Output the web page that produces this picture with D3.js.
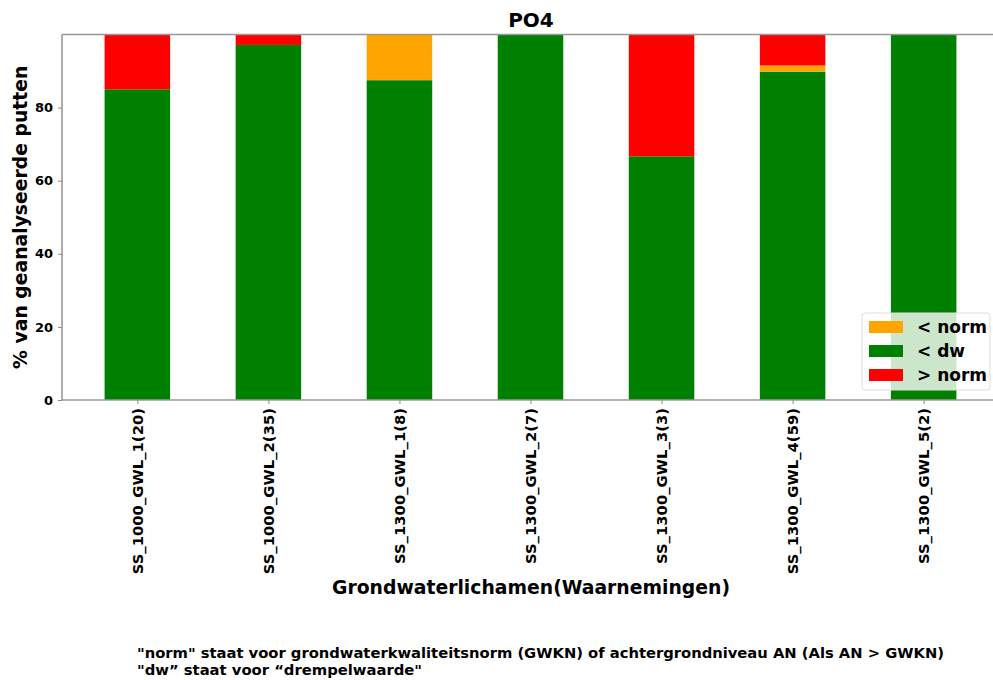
<!DOCTYPE html>
<html>
<head>
<meta charset="utf-8">
<script src="https://cdn.jsdelivr.net/npm/d3@7"></script>
<style>
  body { margin: 0; background: #fff; }
  svg { display: block; font-family: "DejaVu Sans", sans-serif; font-weight: bold; }
</style>
</head>
<body>
<svg id="chart" width="993" height="680"></svg>
<script>
// Groundwater bodies with number of observations
const categories = [
  "SS_1000_GWL_1(20)", "SS_1000_GWL_2(35)", "SS_1300_GWL_1(8)",
  "SS_1300_GWL_2(7)", "SS_1300_GWL_3(3)", "SS_1300_GWL_4(59)", "SS_1300_GWL_5(2)"
];
// Share of analysed wells (%) per class
const belowDw   = [85, 97.14, 87.5, 100, 66.67, 89.83, 100];   // < dw
const belowNorm = [0, 0, 12.5, 0, 0, 1.69, 0];                 // < norm
const aboveNorm = [15, 2.86, 0, 0, 33.33, 8.47, 0];            // > norm
const yTicks = [0, 20, 40, 60, 80];

const series = [
  { key: "< dw",   values: belowDw,   color: "#008000" },
  { key: "< norm", values: belowNorm, color: "#FFA500" },
  { key: "> norm", values: aboveNorm, color: "#FF0000" }
];
const legendOrder = ["< norm", "< dw", "> norm"];

const FONT = "'DejaVu Sans', sans-serif";
const svg = d3.select("#chart");
const plotL = 62, plotR = 999, plotT = 34.5, plotB = 400;

const x = d3.scaleLinear().domain([-0.575, categories.length - 1 + 0.575]).range([plotL, plotR]);
const y = d3.scaleLinear().domain([0, 100]).range([plotB, plotT]);
const barW = x(0.5) - x(0);

// stacked bars
const rows = categories.map((c, i) => {
  const r = { i };
  series.forEach(s => r[s.key] = s.values[i]);
  return r;
});
const stack = d3.stack().keys(series.map(s => s.key))(rows);
stack.forEach((layer, k) => {
  svg.append("g").attr("fill", series[k].color)
    .selectAll("rect").data(layer).join("rect")
    .attr("x", d => x(d.data.i) - barW / 2)
    .attr("width", barW)
    .attr("y", d => y(d[1]))
    .attr("height", d => y(d[0]) - y(d[1]));
});

// axes
const xAxis = d3.axisBottom(x)
  .tickValues(d3.range(categories.length))
  .tickFormat(i => categories[i])
  .tickSize(4).tickPadding(4);
const gx = svg.append("g").attr("transform", `translate(0,${plotB})`).call(xAxis)
  .attr("font-family", FONT).attr("font-weight", "bold").attr("font-size", 14.8);
gx.select(".domain").remove();
gx.selectAll(".tick line").attr("stroke", "#888");
gx.selectAll(".tick text")
  .attr("fill", "#000")
  .attr("transform", "rotate(-90)")
  .attr("text-anchor", "end")
  .attr("x", -8).attr("y", 0).attr("dy", "0.35em");

const yAxis = d3.axisLeft(y).tickValues(yTicks).tickSize(4).tickPadding(5);
const gy = svg.append("g").attr("transform", `translate(${plotL},0)`).call(yAxis)
  .attr("font-family", FONT).attr("font-weight", "bold").attr("font-size", 13);
gy.select(".domain").remove();
gy.selectAll(".tick line").attr("stroke", "#888");
gy.selectAll(".tick text").attr("fill", "#000");

// spines
[[plotL, plotT, plotR, plotT], [plotL, plotB, plotR, plotB], [plotL, plotT, plotL, plotB], [plotR, plotT, plotR, plotB]]
  .forEach(([x1, y1, x2, y2]) => {
    svg.append("line").attr("x1", x1).attr("y1", y1).attr("x2", x2).attr("y2", y2)
      .attr("stroke", "#999").attr("stroke-width", 1.6);
  });

// titles
svg.append("text").attr("x", 531).attr("y", 27)
  .attr("text-anchor", "middle").attr("font-size", 20).text("PO4");
svg.append("text").attr("transform", `translate(27,${(plotT + plotB) / 2}) rotate(-90)`)
  .attr("text-anchor", "middle").attr("font-size", 18.8).text("% van geanalyseerde putten");
svg.append("text").attr("x", 531).attr("y", 594)
  .attr("text-anchor", "middle").attr("font-size", 18.8).text("Grondwaterlichamen(Waarnemingen)");

// legend
const lg = svg.append("g").attr("transform", "translate(862,313)");
lg.append("rect").attr("width", 128).attr("height", 77).attr("rx", 3)
  .attr("fill", "#fff").attr("fill-opacity", 0.8).attr("stroke", "#ddd");
legendOrder.forEach((k, j) => {
  const s = series.find(d => d.key === k);
  const yy = 14 + j * 24;
  lg.append("rect").attr("x", 7).attr("y", yy - 6).attr("width", 34).attr("height", 12).attr("fill", s.color);
  lg.append("text").attr("x", 55).attr("y", yy).attr("dy", "0.35em")
    .attr("font-size", 17).text(k);
});

// footnote (condensed lettering)
const note = svg.append("g").attr("font-family", "'DejaVu Sans Condensed', 'DejaVu Sans', sans-serif")
  .attr("font-stretch", "condensed").attr("font-size", 14.5);
note.append("text").attr("x", 137).attr("y", 658)
  .attr("textLength", 807).attr("lengthAdjust", "spacingAndGlyphs")
  .text('"norm" staat voor grondwaterkwaliteitsnorm (GWKN) of achtergrondniveau AN (Als AN > GWKN)');
note.append("text").attr("x", 137).attr("y", 675)
  .attr("textLength", 285).attr("lengthAdjust", "spacingAndGlyphs")
  .text('"dw\u201d staat voor \u201cdrempelwaarde"');
</script>
</body>
</html>
